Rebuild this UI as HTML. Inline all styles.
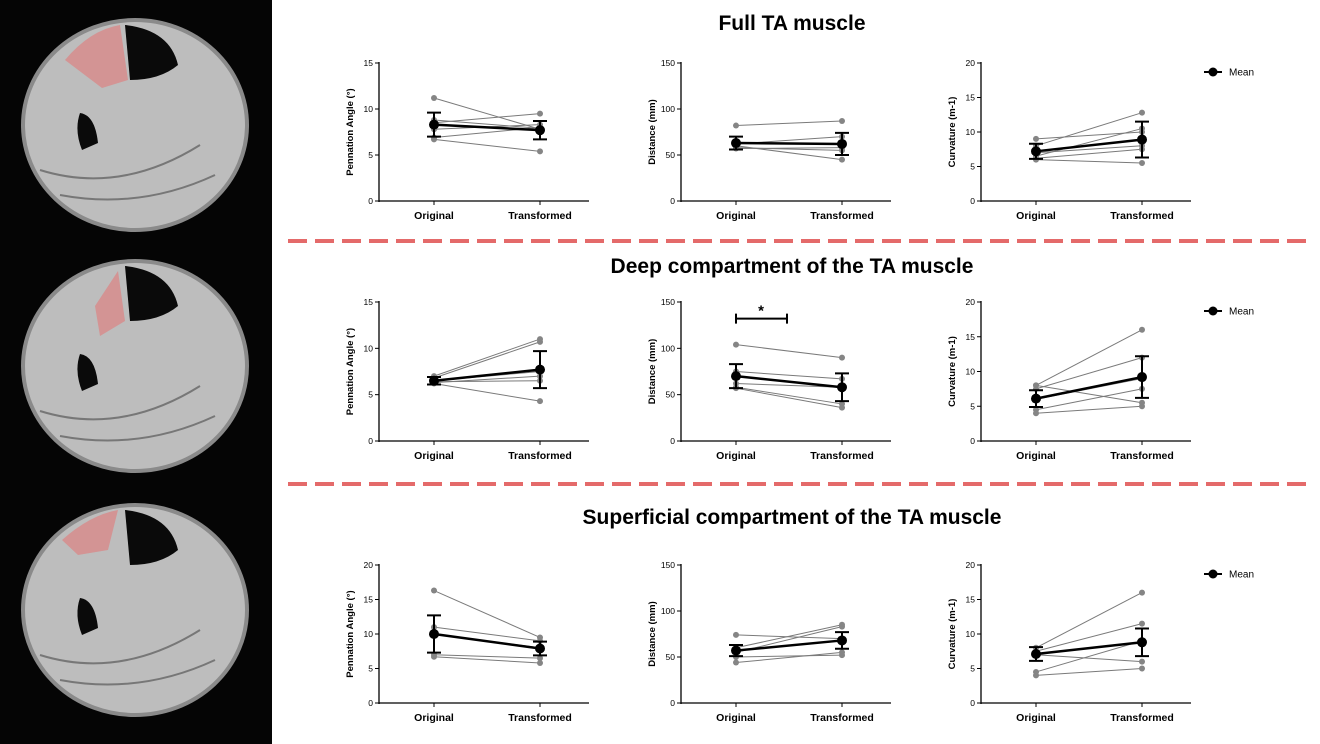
<!DOCTYPE html>
<html><head><meta charset="utf-8"><style>
body{margin:0;width:1320px;height:744px;background:#fff;overflow:hidden;font-family:"Liberation Sans",Arial,sans-serif}
svg{position:absolute;left:0;top:0}
</style></head><body>
<svg id="s" width="1320" height="744">
<rect x="0" y="0" width="272" height="744" fill="#050505"/>
<g id="mri"></g>
<text x="792" y="30" text-anchor="middle" font-size="21" font-weight="bold">Full TA muscle</text>
<text x="792" y="273" text-anchor="middle" font-size="21" font-weight="bold">Deep compartment of the TA muscle</text>
<text x="792" y="524" text-anchor="middle" font-size="21" font-weight="bold">Superficial compartment of the TA muscle</text>
<line x1="288" y1="241" x2="1312" y2="241" stroke="#e46a6a" stroke-width="4" stroke-dasharray="19,8"/>
<line x1="288" y1="484" x2="1312" y2="484" stroke="#e46a6a" stroke-width="4" stroke-dasharray="19,8"/>
<g id="charts"></g>
</svg>
<script>
const NS="http://www.w3.org/2000/svg";
function mk(p,t,a){const e=document.createElementNS(NS,t);for(const k in a)e.setAttribute(k,a[k]);p.appendChild(e);return e;}
// MRI sketches
const mri=document.getElementById('mri');
[125,366,610].forEach((cy,i)=>{
  const g=mk(mri,'g',{});
  
  
  mk(g,'ellipse',{cx:135,cy:cy,rx:112,ry:105,fill:'#bdbdbd',stroke:'#8a8a8a','stroke-width':4});
  mk(g,'path',{d:`M${125} ${cy-100} Q170 ${cy-95} 178 ${cy-60} Q160 ${cy-45} 130 ${cy-45} Z`,fill:'#0a0a0a'});
  mk(g,'path',{d:`M80 ${cy-12} Q95 ${cy-10} 98 ${cy+18} L82 ${cy+25} Q74 ${cy+5} 80 ${cy-12} Z`,fill:'#0a0a0a'});
  const red=[`M65 ${cy-65} Q90 ${cy-95} 120 ${cy-100} L128 ${cy-45} L102 ${cy-37} Z`,`M95 ${cy-60} L118 ${cy-95} L125 ${cy-45} L100 ${cy-30} Z`,`M62 ${cy-70} Q90 ${cy-95} 118 ${cy-100} L108 ${cy-60} L78 ${cy-55} Z`][i];
  mk(g,'path',{d:red,fill:'#d39494'});
  mk(g,'path',{d:`M40 ${cy+45} Q120 ${cy+70} 200 ${cy+20} M60 ${cy+70} Q140 ${cy+85} 215 ${cy+50}`,fill:'none',stroke:'#777','stroke-width':2});
});

// ---- chart data ----
const yMaxes=[[15,150,20],[15,150,20],[20,150,20]];
const yTicks=[[[0,5,10,15],[0,50,100,150],[0,5,10,15,20]],[[0,5,10,15],[0,50,100,150],[0,5,10,15,20]],[[0,5,10,15,20],[0,50,100,150],[0,5,10,15,20]]];
const yTitles=["Pennation Angle (°)","Distance (mm)","Curvature (m-1)"];
const categories=["Original","Transformed"];
const subjOrig=[
 [[11.2,8.8,8.5,7.8,6.7,6.9],[82,62,58,60,57],[9,8,6.5,6,7,6.2]],
 [[7,6.8,6.5,6.3,6.2,6.4],[104,75,62,58,57],[8,7.5,6,4.5,4,8]],
 [[16.3,11,10,7,6.7],[74,60,55,44,50],[8,7.5,7,4.5,4]]];
const subjTrans=[
 [[7.8,7.9,9.5,8.3,5.4,8],[87,70,55,45,58],[10,12.8,10.5,5.5,8,7.5]],
 [[11,10.7,7.5,7,4.3,6.5],[90,67,58,40,36],[16,12,9,7.5,5,5.5]],
 [[9.5,9,8,6.5,5.8],[70,85,83,55,52],[16,11.5,6,9,5]]];
const meanOrig=[[8.3,63,7.2],[6.5,70,6.1],[10,57,7.1]];
const meanTrans=[[7.7,62,8.9],[7.7,58,9.2],[7.9,68,8.8]];
const sdOrig=[[1.3,7,1.1],[0.4,13,1.2],[2.7,6,1]];
const sdTrans=[[1.0,12,2.6],[2.0,15,3],[1.0,9,2]];

const lefts=[379,681,981];
const rows=[[63,201],[302,441],[565,703]];
const C=document.getElementById('charts');
for(let r=0;r<3;r++)for(let c=0;c<3;c++){
  const L=lefts[c],T=rows[r][0],B=rows[r][1],max=yMaxes[r][c];
  const y=v=>B-(B-T)*v/max;
  const xs=[L+55,L+161];
  const g=mk(C,'g',{});
  
  
  const ya=mk(g,'line',{x1:L,y1:T-1,x2:L,y2:B+1,stroke:'#000','stroke-width':1.3});
  
  
  const xa=mk(g,'line',{x1:L,y1:B,x2:L+210,y2:B,stroke:'#000','stroke-width':1.3});
  
  
  yTicks[r][c].forEach(t=>{
    mk(g,'line',{x1:L-4,y1:y(t),x2:L,y2:y(t),stroke:'#000','stroke-width':1});
    const tx=mk(g,'text',{x:L-6,y:y(t)+3,'text-anchor':'end','font-size':8.5});
    tx.textContent=t;
    
    
  });
  categories.forEach((cat,i)=>{
    mk(g,'line',{x1:xs[i],y1:B,x2:xs[i],y2:B+4,stroke:'#000','stroke-width':1});
    const tx=mk(g,'text',{x:xs[i],y:B+18,'text-anchor':'middle','font-size':10.5,'font-weight':'bold'});
    tx.textContent=cat;
    
    
  });
  const yt=mk(g,'text',{x:0,y:0,'text-anchor':'middle','font-size':9.5,'font-weight':'bold',transform:`translate(${L-26},${(T+B)/2}) rotate(-90)`});
  yt.textContent=yTitles[c];
  
  
  const so=subjOrig[r][c],st=subjTrans[r][c];
  so.forEach((v,i)=>{
    const ln=mk(g,'line',{x1:xs[0],y1:y(v),x2:xs[1],y2:y(st[i]),stroke:'#7a7a7a','stroke-width':1});
    
    
    [[xs[0],v],[xs[1],st[i]]].forEach(p=>{
      const d=mk(g,'circle',{cx:p[0],cy:y(p[1]),r:3,fill:'#858585'});
      
      
    });
  });
  const mo=meanOrig[r][c],mt=meanTrans[r][c],so2=[sdOrig[r][c],sdTrans[r][c]];
  const ml=mk(g,'line',{x1:xs[0],y1:y(mo),x2:xs[1],y2:y(mt),stroke:'#000','stroke-width':2.5});
  
  
  [mo,mt].forEach((m,i)=>{
    const x=xs[i];
    mk(g,'path',{d:`M${x} ${y(m-so2[i])}V${y(m+so2[i])}M${x-7} ${y(m-so2[i])}h14M${x-7} ${y(m+so2[i])}h14`,stroke:'#000','stroke-width':2,fill:'none'});
    const d=mk(g,'circle',{cx:x,cy:y(m),r:5,fill:'#000'});
    
    
  });
  if(c===2){
    const lg=mk(g,'g',{});
    
    
    const ly=T+9;
    mk(lg,'line',{x1:1204,y1:ly,x2:1222,y2:ly,stroke:'#000','stroke-width':2});
    mk(lg,'circle',{cx:1213,cy:ly,r:4.5,fill:'#000'});
    const lt=mk(lg,'text',{x:1229,y:ly+3.5,'font-size':10});
    lt.textContent='Mean';
  }
  if(r===1&&c===1){
    const sg=mk(g,'g',{});
    
    
    const by=y(132);
    mk(sg,'path',{d:`M${xs[0]} ${by-5}V${by+5}M${xs[0]} ${by}H${L+106}M${L+106} ${by-5}V${by+5}`,stroke:'#000','stroke-width':2,fill:'none'});
    const st2=mk(sg,'text',{x:L+80,y:by-3,'text-anchor':'middle','font-size':15,'font-weight':'bold'});
    st2.textContent='*';
  }
}
</script>
</body></html>
